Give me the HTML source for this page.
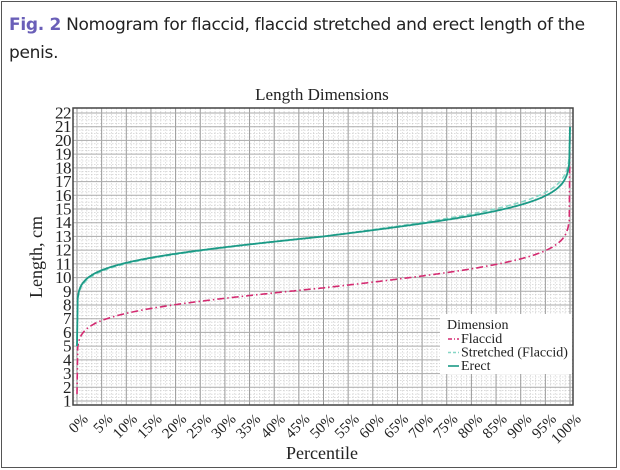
<!DOCTYPE html>
<html><head><meta charset="utf-8"><style>
body{margin:0;background:#fff;width:620px;height:470px;overflow:hidden;position:relative}
.frame{position:absolute;left:1px;top:1px;width:614px;height:465px;border:1.5px solid #555}
.cap{position:absolute;left:9px;top:11px;font:17px/28px "DejaVu Sans","Liberation Sans",sans-serif;color:#222;width:580px;letter-spacing:-0.3px}
.cap b{color:#6a5fb8}
</style></head><body>
<div class="frame"></div>
<div class="cap"><b>Fig. 2</b> Nomogram for flaccid, flaccid stretched and erect length of the penis.</div>
<svg id="s" width="620" height="470" style="position:absolute;left:0;top:0" font-family="Liberation Serif, serif"></svg>
<script>
var s=document.getElementById('s'),h='';
var L=73,R=573,T=108,B=405;
function X(p){return 77+p*(570-77);}
function Y(v){return 401-(v-1)*(401-113)/21;}
h+='<rect x="'+L+'" y="'+T+'" width="'+(R-L)+'" height="'+(B-T)+'" fill="#fff"/>';
for(var i=0;i<=100;i++){if(i%5)h+='<line x1="'+X(i/100)+'" x2="'+X(i/100)+'" y1="'+T+'" y2="'+B+'" stroke="#c8c8c8" stroke-width="0.6" stroke-dasharray="1.5,1.5"/>';}
for(var v=1;v<=22.01;v+=0.25){if(Math.abs(v-Math.round(v))>0.01)h+='<line x1="'+L+'" x2="'+R+'" y1="'+Y(v)+'" y2="'+Y(v)+'" stroke="#c8c8c8" stroke-width="0.6" stroke-dasharray="1.5,1.5"/>';}
for(var i=0;i<=100;i+=5)h+='<line x1="'+X(i/100)+'" x2="'+X(i/100)+'" y1="'+T+'" y2="'+B+'" stroke="#999" stroke-width="1"/>';
for(var v=1;v<=22;v++)h+='<line x1="'+L+'" x2="'+R+'" y1="'+Y(v)+'" y2="'+Y(v)+'" stroke="#aaa" stroke-width="1"/>';
h+='<rect x="'+L+'" y="'+T+'" width="'+(R-L)+'" height="'+(B-T)+'" fill="none" stroke="#444" stroke-width="1.5"/>';
for(var v=1;v<=22;v++)h+='<text x="'+(L-2)+'" y="'+(Y(v)+5.5)+'" font-size="17" text-anchor="end" fill="#222" letter-spacing="-0.5">'+v+'</text>';
for(var i=0;i<=100;i+=5){var x=X(i/100)+5,y=B+8;h+='<text transform="translate('+x+','+y+') rotate(-45)" font-size="15" text-anchor="end" dominant-baseline="hanging" fill="#222">'+i+'%</text>';}
h+='<text x="322" y="100" font-size="17" text-anchor="middle" fill="#222">Length Dimensions</text>';
h+='<text x="322" y="459" font-size="18" text-anchor="middle" fill="#222">Percentile</text>';
h+='<text transform="translate(42,257) rotate(-90)" font-size="18" text-anchor="middle" fill="#222">Length, cm</text>';
function ninv(p){var a=[-39.69683028665376,220.9460984245205,-275.9285104469687,138.3577518672690,-30.66479806614716,2.506628277459239],b=[-54.47609879822406,161.5858368580409,-155.6989798598866,66.80131188771972,-13.28068155288572],c=[-7.784894002430293e-03,-0.3223964580411365,-2.400758277161838,-2.549732539343734,4.374664141464968,2.938163982698783],d=[7.784695709041462e-03,0.3224671290700398,2.445134137142996,3.754408661907416];var q,r;
if(p<0.02425){q=Math.sqrt(-2*Math.log(p));return(((((c[0]*q+c[1])*q+c[2])*q+c[3])*q+c[4])*q+c[5])/((((d[0]*q+d[1])*q+d[2])*q+d[3])*q+1);}
if(p>1-0.02425){q=Math.sqrt(-2*Math.log(1-p));return-(((((c[0]*q+c[1])*q+c[2])*q+c[3])*q+c[4])*q+c[5])/((((d[0]*q+d[1])*q+d[2])*q+d[3])*q+1);}
q=p-0.5;r=q*q;return(((((a[0]*r+a[1])*r+a[2])*r+a[3])*r+a[4])*r+a[5])*q/(((((b[0]*r+b[1])*r+b[2])*r+b[3])*r+b[4])*r+1);}
function curve(m,sl,sh,lo,hi,col,dash,w){var pts=[[X(0),Y(lo)]];
for(var k=0;k<=400;k++){var p=0.0015+k*(0.997/400);var z=ninv(p);var v=m+z*(z<0?sl:sh);pts.push([X(p),Y(v)]);}
pts.push([X(1),Y(hi)]);
h+='<polyline points="'+pts.map(function(a){return a[0].toFixed(1)+','+a[1].toFixed(1)}).join(' ')+'" fill="none" stroke="'+col+'" stroke-width="'+w+'"'+(dash?' stroke-dasharray="'+dash+'"':'')+'/>';}
curve(9.25,1.45,1.65,1.5,21,'#d42a70','7,3,1.5,3',1.6);
curve(13,1.55,1.95,5,21,'#86d6c6','5,3',1.6);
curve(13,1.5,1.8,5,21,'#1b9a86','',1.8);
h+='<rect x="440" y="314" width="132" height="60" fill="#fff"/>';
h+='<text x="447" y="329" font-size="14" fill="#222">Dimension</text>';
var lg=[['Flaccid','#d42a70','4,2,1,2'],['Stretched (Flaccid)','#86d6c6','3,2'],['Erect','#1b9a86','']];
for(var i=0;i<3;i++){var y=343+i*13.5;h+='<line x1="448" x2="459" y1="'+(y-4)+'" y2="'+(y-4)+'" stroke="'+lg[i][1]+'" stroke-width="1.6"'+(lg[i][2]?' stroke-dasharray="'+lg[i][2]+'"':'')+'/><text x="461" y="'+y+'" font-size="14" fill="#222">'+lg[i][0]+'</text>';}
s.innerHTML=h;
</script>
</body></html>
